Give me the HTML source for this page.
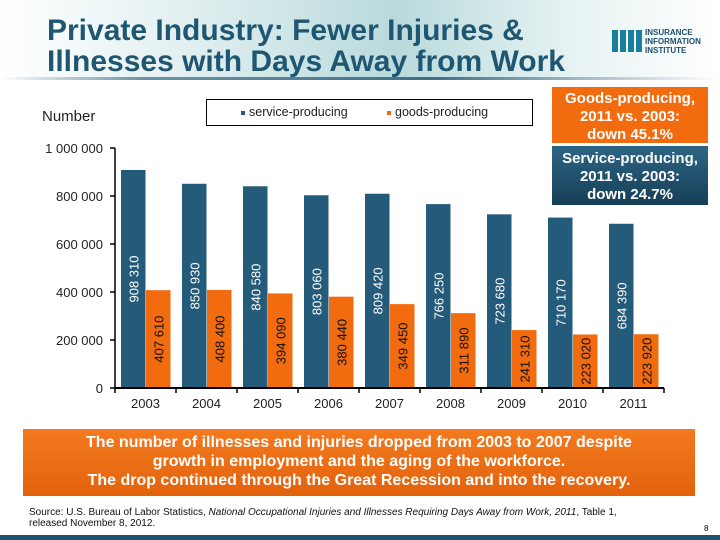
<!DOCTYPE html>
<html><head><meta charset="utf-8"><style>
body{margin:0;width:720px;height:540px;overflow:hidden;background:#fff;font-family:"Liberation Sans",sans-serif;position:relative}
.hdr{position:absolute;left:0;top:0;width:720px;height:80px;background:linear-gradient(90deg,#fff 0%,#e3f0f1 25%,#b9dadc 55%,#e8f3f3 80%,#fff 100%)}
.title{position:absolute;left:47px;top:15px;font-size:30px;font-weight:bold;color:#1f5773;line-height:31px;letter-spacing:0px}
.rule{position:absolute;left:0;top:77px;width:720px;height:3px;background:linear-gradient(90deg,#fff,#6a93a8 20%,#3d6f88 60%,#fff)}
.box{position:absolute;color:#fff;font-weight:bold;font-size:15px;text-align:center;line-height:18px}
</style></head><body>
<div class="hdr"></div>
<div class="title">Private Industry: Fewer Injuries &amp;<br>Illnesses with Days Away from Work</div>
<div class="rule"></div>
<div style="position:absolute;left:612px;top:28px;width:100px;height:28px">
 <div style="position:absolute;left:0;top:2px;width:30px;height:22px;background:repeating-linear-gradient(90deg,#1a7f9c 0 6px,transparent 6px 8px)"></div>
 <div style="position:absolute;left:33px;top:0;font-size:8px;font-weight:bold;color:#1f4e6e;line-height:9px">INSURANCE<br>INFORMATION<br>INSTITUTE</div>
</div>
<div style="position:absolute;left:42px;top:108px;font-size:15px;color:#222">Number</div>
<div style="position:absolute;left:206px;top:99px;width:325px;height:25px;border:1px solid #000;font-size:12.5px;color:#222">
 <span style="position:absolute;left:34px;top:5px"><span style="display:inline-block;width:4px;height:4px;background:#245a7a;vertical-align:middle;margin-right:4px"></span>service-producing</span>
 <span style="position:absolute;left:180px;top:5px"><span style="display:inline-block;width:4px;height:4px;background:#f26b0f;vertical-align:middle;margin-right:4px"></span>goods-producing</span>
</div>
<div class="box" style="left:552px;top:87px;width:156px;height:56px;background:#f26b0f;padding-top:3px;box-sizing:border-box">Goods-producing,<br>2011 vs. 2003:<br>down 45.1%</div>
<div class="box" style="left:552px;top:146px;width:156px;height:59px;background:linear-gradient(#2d6585,#173f57);padding-top:4px;box-sizing:border-box">Service-producing,<br>2011 vs. 2003:<br>down 24.7%</div>
<svg id="chart" width="720" height="540" style="position:absolute;left:0;top:0"></svg>
<div style="position:absolute;left:23px;top:429px;width:672px;height:67px;background:linear-gradient(#f47a1e,#e2620c);color:#fff;font-weight:bold;font-size:16px;line-height:19px;text-align:center;padding-top:4px;box-sizing:border-box">The number of illnesses and injuries dropped from 2003 to 2007 despite<br>growth in employment and the aging of the workforce.<br>The drop continued through the Great Recession and into the recovery.</div>
<div style="position:absolute;left:29px;top:507px;font-size:10px;line-height:11px;color:#111">Source: U.S. Bureau of Labor Statistics, <i>National Occupational Injuries and Illnesses Requiring Days Away from Work, 2011</i>, Table 1,<br>released November 8, 2012.</div>
<div style="position:absolute;left:704px;top:524px;font-size:8px">8</div>
<div style="position:absolute;left:0;top:535px;width:720px;height:5px;background:#1f4e6e"></div>
<script>
const years=["2003","2004","2005","2006","2007","2008","2009","2010","2011"];
const service=[908310,850930,840580,803060,809420,766250,723680,710170,684390];
const goods=[407610,408400,394090,380440,349450,311890,241310,223020,223920];
const yTicks=[0,200000,400000,600000,800000,1000000];
const yTickLabels=["0","200 000","400 000","600 000","800 000","1 000 000"];
const NS="http://www.w3.org/2000/svg";
const svg=document.getElementById('chart');
const x0=115,y0=388,groupW=61,yMax=1000000,plotH=240;
const yS=v=>y0-v/yMax*plotH;
const xG=i=>x0+i*groupW;
function el(t,a){const e=document.createElementNS(NS,t);for(const k in a)e.setAttribute(k,a[k]);svg.appendChild(e);return e;}
const fmt=v=>{const s=String(v);return s.slice(0,s.length-3)+" "+s.slice(-3);};
yTicks.forEach((v,i)=>{
 const t=el('line',{x1:x0-5,x2:x0,y1:yS(v),y2:yS(v),stroke:'#000','stroke-width':1.5});
 
 
 const l=el('text',{x:x0-12,y:yS(v)+5,'text-anchor':'end','font-size':13,fill:'#222','font-family':'Liberation Sans'});
 l.textContent=yTickLabels[i];
 
 
});
years.forEach((yr,i)=>{
 const gx=xG(i);
 const bw=24.5;
 const sx=gx+6, ox=gx+6+bw+0.5;
 const sb=el('rect',{x:sx,y:yS(service[i]),width:bw,height:y0-yS(service[i]),fill:'#245a7a'});
 
 
 const ob=el('rect',{x:ox,y:yS(goods[i]),width:bw,height:y0-yS(goods[i]),fill:'#f26b0f'});
 
 
 const sc=(yS(service[i])+y0)/2, oc=(yS(goods[i])+y0)/2;
 const sl=el('text',{x:0,y:0,'text-anchor':'middle','font-size':13,fill:'#fff','font-family':'Liberation Sans',transform:`translate(${sx+bw/2+5},${sc}) rotate(-90)`});
 sl.textContent=fmt(service[i]);
 
 
 const ol=el('text',{x:0,y:0,'text-anchor':'middle','font-size':13,fill:'#111','font-family':'Liberation Sans',transform:`translate(${ox+bw/2+5},${oc}) rotate(-90)`});
 ol.textContent=fmt(goods[i]);
 
 
 const xl=el('text',{x:gx+groupW/2,y:y0+20,'text-anchor':'middle','font-size':13,fill:'#222','font-family':'Liberation Sans'});
 xl.textContent=yr;
 
 
});
for(let i=0;i<=years.length;i++){
 const t=el('line',{x1:xG(i),x2:xG(i),y1:y0,y2:y0+5,stroke:'#000','stroke-width':1.5});
 
 
}
const ya=el('line',{x1:x0,x2:x0,y1:yS(yMax),y2:y0,stroke:'#000','stroke-width':1.5});


const xa=el('line',{x1:x0,x2:xG(years.length),y1:y0,y2:y0,stroke:'#000','stroke-width':2});


</script>
</body></html>
